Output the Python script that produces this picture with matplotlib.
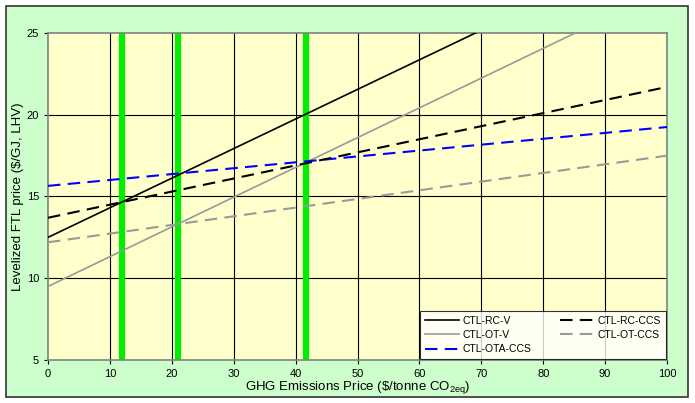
import matplotlib
matplotlib.use("Agg")
import matplotlib.pyplot as plt
from matplotlib.patches import Rectangle

plt.rcParams['font.family'] = ['Liberation Sans', 'DejaVu Sans']
plt.rcParams['mathtext.fontset'] = 'custom'
plt.rcParams['mathtext.rm'] = 'Liberation Sans'

# GHG price endpoints ($/tonne CO2eq) and levelized price ($/GJ) at those points
ghg = [0, 100]
rc_v = [12.5, 30.6]
ot_v = [9.5, 27.7]
rc_ccs = [13.7, 21.7]
ot_ccs = [12.2, 17.5]
ota_ccs = [15.65, 19.25]

# break-even GHG prices (green markers)
breakeven = [11.9, 21.0, 41.6]

xticks = list(range(0, 101, 10))
yticks = [5, 10, 15, 20, 25]

fig = plt.figure(figsize=(6.95, 4.03), dpi=100)
fig.patch.set_facecolor("white")
fig.patches.append(Rectangle((6 / 695, 6 / 403), 682 / 695, 391 / 403,
                             transform=fig.transFigure, facecolor="#CCFFCC",
                             edgecolor="#333333", linewidth=1.2, zorder=-1))

ax = fig.add_axes([48 / 695, 43 / 403, 619 / 695, 327 / 403])
ax.set_facecolor("#FFFFCC")

for x in xticks[1:-1]:
    ax.axvline(x, color="black", lw=0.8, zorder=1)
for y in yticks[1:-1]:
    ax.axhline(y, color="black", lw=0.8, zorder=1)

for b in breakeven:
    ax.axvline(b, color="#00EE00", lw=4.5, zorder=2)

ax.plot(ghg, rc_v, color="black", lw=1.2, label="CTL-RC-V", zorder=3)
ax.plot(ghg, ot_v, color="#999999", lw=1.2, label="CTL-OT-V", zorder=3)
ax.plot(ghg, ota_ccs, color="#0000FF", lw=1.5, dashes=(6, 3.5), label="CTL-OTA-CCS", zorder=3)
ax.plot(ghg, rc_ccs, color="black", lw=1.5, dashes=(6, 3.5), label="CTL-RC-CCS", zorder=3)
ax.plot(ghg, ot_ccs, color="#999999", lw=1.5, dashes=(6, 3.5), label="CTL-OT-CCS", zorder=3)

ax.set_xlim(0, 100)
ax.set_ylim(5, 25)
ax.set_xticks(xticks)
ax.set_yticks(yticks)
ax.tick_params(labelsize=8, length=3, direction="out", color="black")
for s in ax.spines.values():
    s.set_color("#808080")
    s.set_linewidth(1.2)

ax.set_xlabel(r"GHG Emissions Price (\$/tonne CO$_{\mathrm{2eq}}$)", fontsize=9.5, labelpad=0)
ax.set_ylabel(r"Levelized FTL price (\$/GJ, LHV)", fontsize=9.5, labelpad=2)

leg = ax.legend(ncol=2, loc="lower right", fontsize=7.5, frameon=True, fancybox=False,
                borderaxespad=0.1, handlelength=3.3, columnspacing=2.8,
                labelspacing=0.4, handletextpad=0.3, borderpad=0.45)
leg.get_frame().set_edgecolor("black")
leg.get_frame().set_linewidth(0.8)
leg.set_zorder(5)

fig.savefig("out.png", dpi=100)
